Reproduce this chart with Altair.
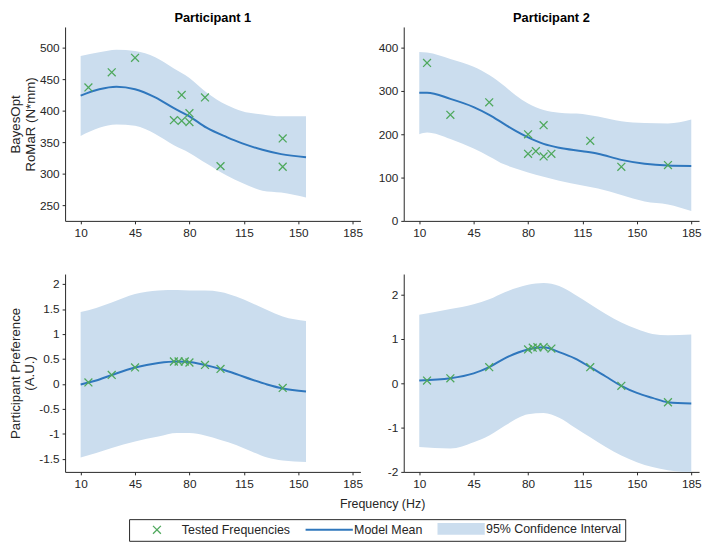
import altair as alt
import pandas as pd

# ---------------- data ----------------
series_names = ["Tested Frequencies", "Model Mean", "95% Confidence Interval"]
series_colors = ["#4ea85c", "#2f77bd", "#cbddee"]
x_ticks = [10, 45, 80, 115, 150, 185]

# Participant 1 - BayesOpt RoMaR
p1_romar_hz = [10, 22, 33, 45, 58, 70, 80, 91, 104, 114, 127, 139, 155]
p1_romar_mean = [424, 434, 438, 434, 421, 404, 391, 373, 358, 348, 338, 331, 326]
p1_romar_upper = [487, 493, 497, 495, 485, 467, 452, 429, 409, 399, 394, 391, 391]
p1_romar_lower = [360, 373, 378, 376, 363, 345, 333, 316, 297, 285, 273, 270, 262]
p1_romar_tested_hz = [15, 30, 45, 70, 75, 75, 80, 80, 90, 100, 140, 140]
p1_romar_tested = [437, 461, 484, 385, 384, 425, 396, 382, 421, 312, 356, 311]

# Participant 2 - BayesOpt RoMaR
p2_romar_hz = [10, 15, 30, 45, 55, 65, 72, 80, 90, 100, 115, 125, 140, 155, 170, 185]
p2_romar_mean = [296, 296, 282, 263, 245, 223, 208, 193, 178, 169, 161, 155, 141, 132, 128, 127]
p2_romar_upper = [390, 389, 374, 356, 337, 311, 290, 271, 256, 250, 247, 241, 230, 226, 225, 234]
p2_romar_lower = [200, 204, 189, 167, 149, 130, 121, 112, 102, 93, 82, 75, 60, 45, 38, 23]
p2_romar_tested_hz = [15, 30, 55, 80, 80, 85, 90, 90, 95, 120, 140, 170]
p2_romar_tested = [365, 245, 274, 200, 155, 161, 221, 149, 155, 185, 125, 129]

# Participant 1 - Preference
p1_pref_hz = [10, 20, 30, 45, 60, 72, 80, 90, 100, 110, 120, 130, 140, 155]
p1_pref_mean = [-0.01, 0.07, 0.18, 0.33, 0.42, 0.45, 0.44, 0.38, 0.30, 0.20, 0.09, -0.01, -0.09, -0.15]
p1_pref_upper = [1.44, 1.52, 1.63, 1.80, 1.87, 1.88, 1.87, 1.87, 1.84, 1.75, 1.62, 1.48, 1.35, 1.26]
p1_pref_lower = [-1.47, -1.38, -1.28, -1.15, -1.05, -0.98, -0.98, -1.03, -1.12, -1.22, -1.35, -1.47, -1.53, -1.56]
p1_pref_tested_hz = [15, 30, 45, 70, 73, 77, 80, 90, 100, 140]
p1_pref_tested = [0.03, 0.18, 0.33, 0.45, 0.45, 0.45, 0.43, 0.38, 0.30, -0.08]

# Participant 2 - Preference
p2_pref_hz = [10, 30, 45, 55, 65, 80, 90, 100, 110, 120, 130, 140, 150, 160, 170, 185]
p2_pref_mean = [0.06, 0.11, 0.22, 0.36, 0.56, 0.76, 0.81, 0.70, 0.56, 0.36, 0.15, -0.06, -0.22, -0.33, -0.43, -0.46]
p2_pref_upper = [1.54, 1.67, 1.78, 1.89, 2.05, 2.22, 2.26, 2.19, 2.00, 1.78, 1.56, 1.37, 1.22, 1.11, 1.08, 1.10]
p2_pref_lower = [-1.44, -1.47, -1.33, -1.18, -0.96, -0.70, -0.67, -0.78, -1.00, -1.22, -1.44, -1.63, -1.78, -1.89, -1.96, -2.02]
p2_pref_tested_hz = [15, 30, 55, 80, 83, 86, 90, 95, 120, 140, 170]
p2_pref_tested = [0.06, 0.11, 0.36, 0.76, 0.80, 0.81, 0.81, 0.78, 0.36, -0.06, -0.43]

# ---------------- style ----------------
FONT = "Liberation Sans"
TXT = "#262626"
W, SPACE_COL = 300, 44
H_TOP, H_BOT, SPACE_ROW = 197, 201, 54

X_PATH = "M-1,-1L1,1M-1,1L1,-1"
legend_paths = [
    "M3.625,-1L5.625,1M3.625,1L5.625,-1",
    "M-1.375,-0.25L10.625,-0.25L10.625,0.25L-1.375,0.25Z",
    "M-1.375,-1.5L10.625,-1.5L10.625,1.5L-1.375,1.5Z",
]

color_scale = alt.Scale(domain=series_names, range=series_colors)

shape_expr = (f"datum.value == '{series_names[0]}' ? '{legend_paths[0]}' : "
              f"datum.value == '{series_names[1]}' ? '{legend_paths[1]}' : '{legend_paths[2]}'")
stroke_expr = f"datum.value == '{series_names[0]}' ? '{series_colors[0]}' : 'transparent'"

legend = alt.Legend(
    title=None,
    orient="none",
    legendX=65,
    legendY=500,
    direction="horizontal",
    symbolSize=64,
    symbolStrokeWidth=1.3,
    labelOffset=37.5,
    columnPadding=12,
    padding=3.5,
    strokeColor=TXT,
    labelFont=FONT,
    labelFontSize=12.6,
    labelColor=TXT,
    symbolOpacity=1,
    symbolType={"expr": shape_expr},
    symbolStrokeColor={"expr": stroke_expr},
)


def panel(title, hz, mean, lower, upper, t_hz, t_val, ydom, yticks, ytitle, xtitle, h):
    curve = pd.DataFrame({"hz": hz, "mean": mean, "lower": lower, "upper": upper,
                          "band": series_names[2]})
    pts = pd.DataFrame({"hz": t_hz, "val": t_val})

    xaxis_kw = dict(values=x_ticks, labelExpr="'' + datum.value", labelPadding=4)
    if xtitle:
        xaxis_kw.update(title=xtitle, titleX=(2 * W + SPACE_COL) / 2, titleAlign="center",
                        titlePadding=8, titleFontSize=12.6, titleFont=FONT,
                        titleFontWeight="normal", titleColor=TXT)
    else:
        xaxis_kw.update(title=None)
    xenc = alt.X("hz:Q", scale=alt.Scale(domain=[0, 190], nice=False, zero=False),
                 axis=alt.Axis(**xaxis_kw))

    yaxis_kw = dict(values=yticks, labelExpr="'' + datum.value")
    if ytitle:
        yaxis_kw.update(title=ytitle, titleLineHeight=15, titlePadding=2,
                        titleFontSize=13.5, titleFont=FONT, titleFontWeight="normal",
                        titleColor=TXT)
    else:
        yaxis_kw.update(title=None)

    def yenc(field):
        return alt.Y(f"{field}:Q", scale=alt.Scale(domain=ydom, nice=False, zero=False),
                     axis=alt.Axis(**yaxis_kw))

    band = alt.Chart(curve).mark_area(interpolate="monotone", clip=True, opacity=1).encode(
        x=xenc, y=yenc("lower"), y2="upper:Q",
        color=alt.Color("band:N", scale=color_scale, legend=legend))
    line = alt.Chart(curve).mark_line(interpolate="monotone", strokeWidth=2, clip=True,
                                      color=series_colors[1]).encode(
        x=xenc, y=yenc("mean"))
    points = alt.Chart(pts).mark_point(filled=False, size=64, strokeWidth=1.3, opacity=1,
                                       shape=X_PATH, color=series_colors[0]).encode(
        x=xenc, y=yenc("val"))
    ch = alt.layer(band, line, points).properties(width=W, height=h)
    if title:
        ch = ch.properties(title=title)
    return ch


c11 = panel("Participant 1", p1_romar_hz, p1_romar_mean, p1_romar_lower, p1_romar_upper,
            p1_romar_tested_hz, p1_romar_tested, [225, 533], [250, 300, 350, 400, 450, 500],
            ["BayesOpt", "RoMaR (N*mm)"], None, H_TOP)
c12 = panel("Participant 2", p2_romar_hz, p2_romar_mean, p2_romar_lower, p2_romar_upper,
            p2_romar_tested_hz, p2_romar_tested, [0, 448], [0, 100, 200, 300, 400],
            None, None, H_TOP)
c21 = panel(None, p1_pref_hz, p1_pref_mean, p1_pref_lower, p1_pref_upper,
            p1_pref_tested_hz, p1_pref_tested, [-1.76, 2.2],
            [-1.5, -1, -0.5, 0, 0.5, 1, 1.5, 2],
            ["Participant Preference", "(A.U.)"], "Frequency (Hz)", H_BOT)
c22 = panel(None, p2_pref_hz, p2_pref_mean, p2_pref_lower, p2_pref_upper,
            p2_pref_tested_hz, p2_pref_tested, [-2, 2.46], [-2, -1, 0, 1, 2],
            None, None, H_BOT)

chart = alt.concat(c11, c12, c21, c22, columns=2, bounds="flush",
                   spacing={"row": SPACE_ROW, "column": SPACE_COL}).properties(
    padding=0
).configure_view(stroke=None).configure_axis(
    domainColor=TXT, tickColor=TXT, labelColor=TXT, titleColor=TXT,
    labelFont=FONT, titleFont=FONT, labelFontSize=12, titleFontSize=13.5,
    titleFontWeight="normal", grid=False, tickSize=3, labelPadding=3,
    domainWidth=1, tickWidth=1, zindex=1,
).configure_title(
    font=FONT, fontSize=13, fontWeight="bold", color="black", offset=2,
    anchor="middle", frame="group",
)

chart.save("out.html", embed_options={"renderer": "svg", "actions": False})
